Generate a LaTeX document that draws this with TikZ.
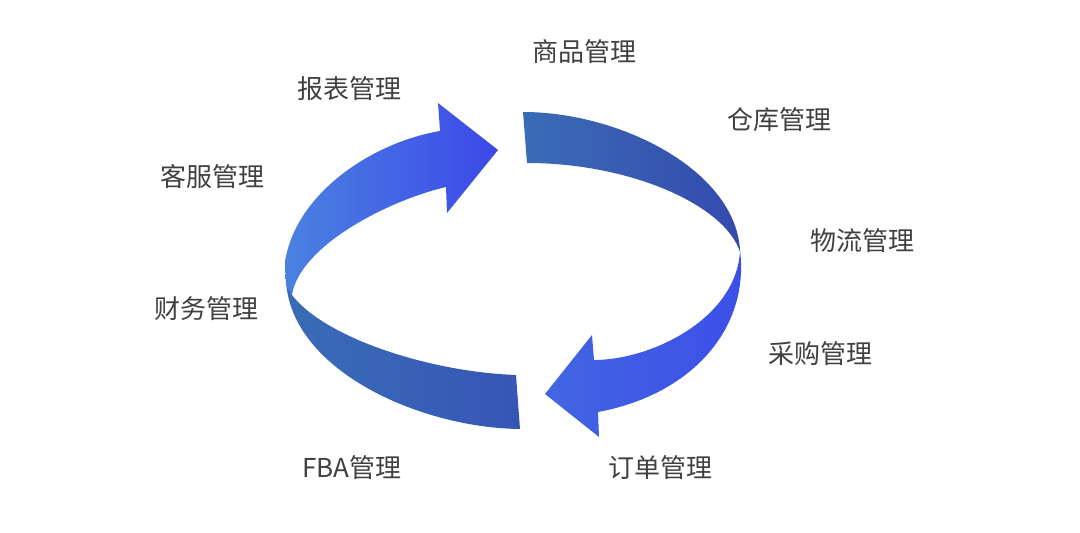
\documentclass[tikz,border=0pt]{standalone}
\usepackage{fontspec}
\newfontfamily\cjk{Noto Sans CJK SC}
\definecolor{txt}{HTML}{404040}
\definecolor{ulA}{HTML}{4A82E0}
\definecolor{ulB}{HTML}{3C48E8}
\definecolor{dkA}{HTML}{3A6CB6}
\definecolor{dkB}{HTML}{3656B6}
\definecolor{urB}{HTML}{344AAE}
\definecolor{lrA}{HTML}{4266E2}
\definecolor{lrB}{HTML}{3C4EE8}
\begin{document}
\begin{tikzpicture}[x=0.5pt,y=-0.5pt,
  lbl/.style={font=\cjk\fontsize{13pt}{15pt}\selectfont, text=txt, inner sep=0pt}]
\useasboundingbox (0,0) rectangle (1080,533);
% back piece lower-left
\shade[left color=dkA, right color=dkB]
  (286,280) .. controls (290,370) and (420,428) .. (520,429)
  -- (516,375) .. controls (430,372) and (325,338) .. (292,295) -- cycle;
% back piece upper-right
\shade[left color=dkA, right color=urB]
  (523,112) .. controls (620,112) and (735,170) .. (740,250)
  -- (740,252) .. controls (725,205) and (630,163) .. (527,163) -- cycle;
% upper-left arrow
\shade[left color=ulA, right color=ulB]
  (292,295) .. controls (300,245) and (390,200) .. (446,187)
  -- (447,213) -- (498,150) -- (438,103) -- (440,131)
  .. controls (370,143) and (295,195) .. (285,262) -- (286,285) -- cycle;
% lower-right arrow
\shade[left color=lrA, right color=lrB]
  (740,250) .. controls (750,330) and (690,395) .. (598,412)
  -- (599,437) -- (545,394) -- (592,335) -- (594,360)
  .. controls (650,360) and (735,320) .. (740,252) -- cycle;
% labels
\node[lbl] (n1) at (584,52) {商品管理};
\node[lbl] (n2) at (349,89) {报表管理};
\node[lbl] (n3) at (779,120) {仓库管理};
\node[lbl] (n4) at (212,177) {客服管理};
\node[lbl] (n5) at (862,241) {物流管理};
\node[lbl] (n6) at (206,309) {财务管理};
\node[lbl] (n7) at (820,354) {采购管理};
\node[lbl] (n8) at (352,468) {FBA管理};
\node[lbl] (n9) at (660,468) {订单管理};
\end{tikzpicture}
\end{document}
